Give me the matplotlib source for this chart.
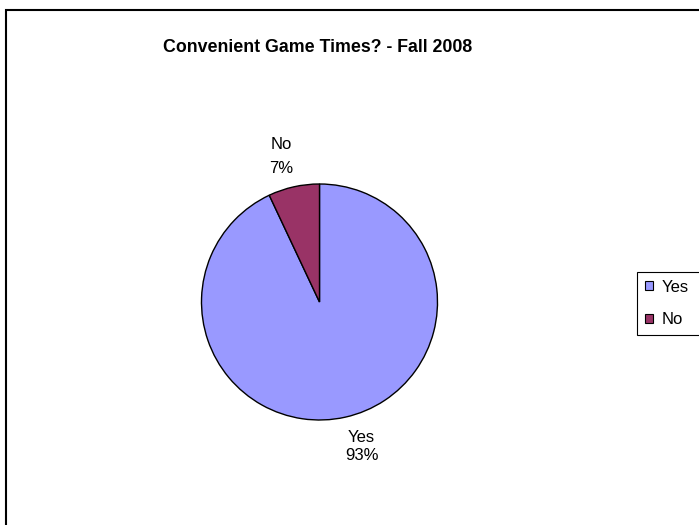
import matplotlib
matplotlib.use("Agg")
import matplotlib.pyplot as plt
from matplotlib.patches import Rectangle

plt.rcParams['font.family'] = ['Liberation Sans', 'DejaVu Sans']

categories = ["Yes", "No"]
percents = [93, 7]
colors = ["#9999FF", "#993366"]
title = "Convenient Game Times? - Fall 2008"

W, H = 699, 525
fig = plt.figure(figsize=(W / 100, H / 100), dpi=100)
fig.patch.set_facecolor("white")

# outer chart border (right/bottom edges lie beyond the image)
fig.patches.append(Rectangle((6 / W, -0.1), 1.2, 1 - 10 / H + 0.1,
                             transform=fig.transFigure, fill=False,
                             edgecolor="black", linewidth=1.5))

cx, cy, r = 319.5, 302, 118
ax = fig.add_axes([(cx - r) / W, (H - cy - r) / H, 2 * r / W, 2 * r / H])
labels = [f"{c}\n{p}%" for c, p in zip(categories, percents)]
wedges, texts = ax.pie(percents, labels=labels, colors=colors, startangle=90,
                       counterclock=False, labeldistance=1.24,
                       wedgeprops=dict(edgecolor="black", linewidth=1.0),
                       textprops=dict(fontsize=12))
label_pos = [(0.356, -1.225), (-0.322, 1.237)]
label_ls = [1.2, 1.75]
for t, pos, ls in zip(texts, label_pos, label_ls):
    t.set_position(pos)
    t.set_ha("center")
    t.set_va("center")
    t.set_multialignment("center")
    t.set_linespacing(ls)
ax.set_xlim(-1, 1)
ax.set_ylim(-1, 1)
ax.set_aspect("equal")
ax.axis("off")

fig.text(318 / W, 1 - 47 / H, title, ha="center", va="center",
         fontsize=12.8, fontweight="bold")

leg = fig.legend(wedges, categories, loc="upper left",
                 bbox_to_anchor=(637 / W, 1 - 336 / H, 80 / W, 64 / H),
                 mode="expand", fontsize=12, frameon=True, fancybox=False,
                 edgecolor="black", framealpha=1, handlelength=0.5,
                 handleheight=0.5, handletextpad=0.55, labelspacing=1.07,
                 borderpad=0.45, borderaxespad=0)
leg.get_frame().set_linewidth(0.8)
for h in leg.legend_handles:
    h.set_edgecolor("black")
    h.set_linewidth(0.8)

fig.savefig("out.png", dpi=100)
